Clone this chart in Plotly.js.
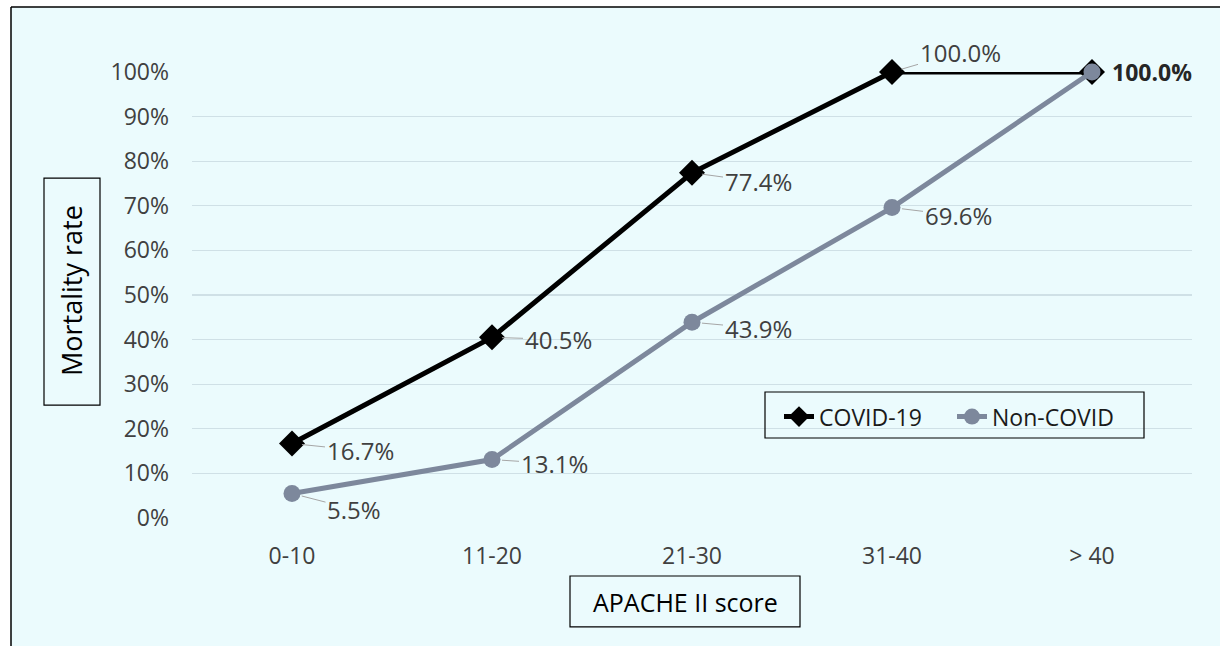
<!DOCTYPE html>
<html>
<head>
<meta charset="utf-8">
<script src="https://cdn.plot.ly/plotly-3.0.1.min.js"></script>
<style>html,body{margin:0;padding:0;background:#fff;}#chart{width:1220px;height:646px;}</style>
</head>
<body>
<div id="chart"></div>
<script>
const categories = ["0-10", "11-20", "21-30", "31-40", "> 40"];
const covid = [0.167, 0.405, 0.774, 1.0, 1.0];
const nonCovid = [0.055, 0.131, 0.439, 0.696, 1.0];
const covidLabels = ["16.7%", "40.5%", "77.4%", "100.0%", "100.0%"];
const nonCovidLabels = ["5.5%", "13.1%", "43.9%", "69.6%", "100.0%"];
const yTickVals = [0, 0.1, 0.2, 0.3, 0.4, 0.5, 0.6, 0.7, 0.8, 0.9, 1.0];
const yTickText = ["0%", "10%", "20%", "30%", "40%", "50%", "60%", "70%", "80%", "90%", "100%"];

const FONT = "Open Sans, Noto Sans, sans-serif";
const TXT = "#404040";
const GRAY = "#7d889c";

const traces = [
  {
    x: categories, y: covid, name: "COVID-19", type: "scatter", mode: "lines+markers",
    line: {color: "#000000", width: 5},
    marker: {symbol: "diamond", size: 20, color: "#000000"},
    cliponaxis: false
  },
  {
    x: categories, y: nonCovid, name: "Non-COVID", type: "scatter", mode: "lines+markers",
    line: {color: GRAY, width: 5},
    marker: {symbol: "circle", size: 17, color: GRAY},
    cliponaxis: false
  }
];

// label offsets (pixels) per point
const covidOff = [[68, 7], [66, 2], [66, 9], [68, -20], null];
const nonOff = [[62, 16], [62, 4], [66, 6], [66, 8], null];

const annotations = [];
function addLabels(vals, labels, offs) {
  vals.forEach((v, i) => {
    const o = offs[i];
    if (!o) return;
    annotations.push({
      x: i, y: v, xref: "x", yref: "y", text: labels[i],
      showarrow: true, arrowhead: 0, arrowwidth: 1, arrowcolor: "#a6a6a6",
      ax: o[0], ay: o[1], standoff: 10,
      font: {family: FONT, size: 24, color: TXT}
    });
  });
}
addLabels(covid, covidLabels, covidOff);
addLabels(nonCovid, nonCovidLabels, nonOff);
annotations.push({
  x: 4, y: covid[4], xref: "x", yref: "y", text: "<b>" + covidLabels[4] + "</b>",
  showarrow: false, xanchor: "left", yanchor: "middle", xshift: 18,
  font: {family: FONT, size: 23, color: "#262626"}
});
annotations.push({
  x: -0.12, y: 0.509, xref: "paper", yref: "paper", text: "Mortality rate",
  textangle: -90, showarrow: false, xanchor: "center", yanchor: "middle",
  font: {family: FONT, size: 27, color: "#000000"}
});
annotations.push({
  x: 0.493, y: -0.188, xref: "paper", yref: "paper", text: "APACHE II score",
  showarrow: false, xanchor: "center", yanchor: "middle",
  font: {family: FONT, size: 25, color: "#000000"}
});

const shapes = [
  {type: "rect", xref: "paper", yref: "paper", x0: -0.181, x1: 1.2, y0: -0.5, y1: 1.1457,
   line: {width: 0}, fillcolor: "#ebfbfd", layer: "below"},
  {type: "line", xref: "paper", yref: "paper", x0: -0.181, x1: 1.2, y0: 1.1457, y1: 1.1457,
   line: {color: "#000000", width: 1.5}},
  {type: "line", xref: "paper", yref: "paper", x0: -0.181, x1: -0.181, y0: -0.5, y1: 1.1457,
   line: {color: "#000000", width: 1.5}},
  {type: "rect", xref: "paper", yref: "paper", x0: -0.148, x1: -0.092, y0: 0.253, y1: 0.762,
   line: {color: "#000000", width: 1.2}, fillcolor: "rgba(0,0,0,0)"},
  {type: "rect", xref: "paper", yref: "paper", x0: 0.378, x1: 0.608, y0: -0.244, y1: -0.130,
   line: {color: "#000000", width: 1.2}, fillcolor: "rgba(0,0,0,0)"},
  {type: "rect", xref: "paper", yref: "paper", x0: 0.573, x1: 0.952, y0: 0.1794, y1: 0.2825,
   line: {color: "#000000", width: 1.2}, fillcolor: "rgba(0,0,0,0)"}
];

const layout = {
  width: 1220, height: 646,
  margin: {l: 192, r: 28, t: 72, b: 128, pad: 0},
  paper_bgcolor: "#ffffff",
  plot_bgcolor: "rgba(0,0,0,0)",
  showlegend: true,
  legend: {
    orientation: "h", x: 0.587, y: 0.2755, xanchor: "left", yanchor: "top",
    borderwidth: 0, bgcolor: "rgba(0,0,0,0)",
    font: {family: FONT, size: 23, color: "#1a1a1a"},
    entrywidth: 128, entrywidthmode: "pixels", tracegroupgap: 0
  },
  xaxis: {
    type: "category", range: [-0.5, 4.5], showgrid: false, zeroline: false, showline: false,
    ticks: "", ticklabelstandoff: 22,
    tickfont: {family: FONT, size: 23, color: TXT}
  },
  yaxis: {
    range: [0, 1], tickvals: yTickVals, ticktext: yTickText,
    showgrid: true, gridcolor: "#cfe0e6", gridwidth: 1.3, zeroline: false, showline: false,
    ticks: "", ticklabelstandoff: 22,
    tickfont: {family: FONT, size: 23, color: TXT}
  },
  annotations: annotations,
  shapes: shapes
};

Plotly.newPlot("chart", traces, layout, {displayModeBar: false, staticPlot: true});
</script>
</body>
</html>
